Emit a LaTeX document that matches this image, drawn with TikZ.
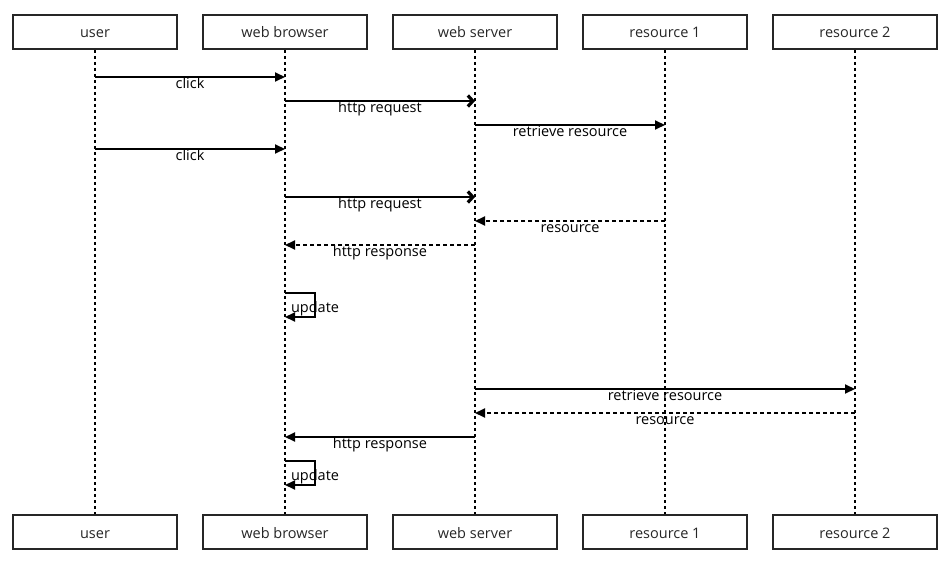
\documentclass[tikz,border=0pt]{standalone}
\usepackage{fontspec}
\setmainfont{Open Sans}
\usetikzlibrary{arrows.meta}
\tikzset{
  actor/.style={draw=black!85, line width=2pt, minimum width=164pt, minimum height=34pt, inner sep=0pt, text height=12pt, text depth=0pt, text=black!85, font=\fontsize{14.5}{17}\selectfont},
  lifeline/.style={line width=2pt, dash pattern=on 3pt off 3pt},
  msg/.style={line width=2pt, -{Triangle[length=10pt,width=9pt]}},
  req/.style={line width=2pt, -{Straight Barb[length=5pt,width=11pt,line width=3.2pt]}},
  reply/.style={msg, dash pattern=on 4pt off 3pt},
  msglabel/.style={anchor=base, inner sep=0pt, font=\fontsize{14.5}{17}\selectfont, yshift=-11.5pt}
}
\begin{document}
\begin{tikzpicture}[x=1pt,y=-1pt]
\useasboundingbox (0,0) rectangle (950,569);

% actors, top and bottom
\node[actor] (user) at (95,32) {user};
\node[actor] (browser) at (285,32) {web browser};
\node[actor] (server) at (475,32) {web server};
\node[actor] (resA) at (665,32) {resource 1};
\node[actor] (resB) at (855,32) {resource 2};

\node[actor] (userB) at (95,532) {user};
\node[actor] (browserB) at (285,532) {web browser};
\node[actor] (serverB) at (475,532) {web server};
\node[actor] (resAB) at (665,532) {resource 1};
\node[actor] (resBB) at (855,532) {resource 2};

% lifelines
\foreach \a in {user,browser,server,resA,resB}
  \draw[lifeline] (\a.south) -- (\a B.north);

% messages
\foreach \y/\p/\q/\s/\t in {77/user/browser/msg/click,
    101/browser/server/req/http request,
    125/server/resA/msg/retrieve resource,
    149/user/browser/msg/click,
    197/browser/server/req/http request,
    221/resA/server/reply/resource,
    245/server/browser/reply/http response,
    389/server/resB/msg/retrieve resource,
    413/resB/server/reply/resource,
    437/server/browser/msg/http response}
  \draw[\s] (\p |- 0,\y) -- (\q |- 0,\y) node[msglabel, midway] (lbl\y) {\t};

% self calls
\draw[msg] (browser |- 0,293) -- ++(30,0) |- (browser |- 0,317);
\node[msglabel] (upd1) at (315,301) {update};
\draw[msg] (browser |- 0,461) -- ++(30,0) |- (browser |- 0,485);
\node[msglabel] (upd2) at (315,469) {update};

\end{tikzpicture}
\end{document}
